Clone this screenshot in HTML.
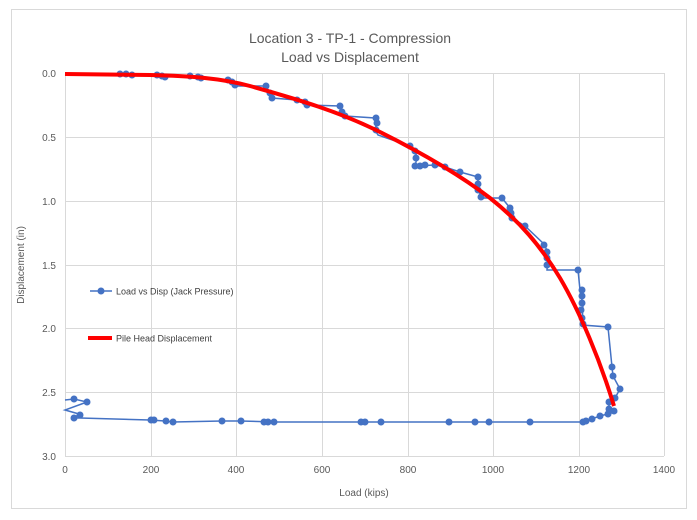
<!DOCTYPE html>
<html><head><style>
body{margin:0;background:#fff;}
svg{display:block;font-family:"Liberation Sans",sans-serif;}
</style></head><body>
<svg width="697" height="520" xmlns="http://www.w3.org/2000/svg">
<rect x="0" y="0" width="697" height="520" fill="#fff"/>
<rect x="11.5" y="9.5" width="675" height="499" fill="#fff" stroke="#d9d9d9"/>
<text x="350" y="43" text-anchor="middle" font-size="14" fill="#595959">Location 3 - TP-1 - Compression</text>
<text x="350" y="62" text-anchor="middle" font-size="14" fill="#595959">Load vs Displacement</text>
<g stroke="#d9d9d9" stroke-width="1">
<line x1="65" y1="73.5" x2="664" y2="73.5"/><line x1="65" y1="137.5" x2="664" y2="137.5"/><line x1="65" y1="201.5" x2="664" y2="201.5"/><line x1="65" y1="265.5" x2="664" y2="265.5"/><line x1="65" y1="328.5" x2="664" y2="328.5"/><line x1="65" y1="392.5" x2="664" y2="392.5"/><line x1="65" y1="456.5" x2="664" y2="456.5"/>
<line x1="65.5" y1="73" x2="65.5" y2="456"/><line x1="151.5" y1="73" x2="151.5" y2="456"/><line x1="236.5" y1="73" x2="236.5" y2="456"/><line x1="322.5" y1="73" x2="322.5" y2="456"/><line x1="408.5" y1="73" x2="408.5" y2="456"/><line x1="493.5" y1="73" x2="493.5" y2="456"/><line x1="579.5" y1="73" x2="579.5" y2="456"/><line x1="664.5" y1="73" x2="664.5" y2="456"/>
</g>
<g font-size="10" fill="#595959" text-anchor="end">
<text x="56" y="77">0.0</text><text x="56" y="141">0.5</text><text x="56" y="205">1.0</text><text x="56" y="269">1.5</text><text x="56" y="332">2.0</text><text x="56" y="396">2.5</text><text x="56" y="460">3.0</text>
</g>
<g font-size="10" fill="#595959" text-anchor="middle">
<text x="65" y="473">0</text><text x="151" y="473">200</text><text x="236" y="473">400</text><text x="322" y="473">600</text><text x="408" y="473">800</text><text x="493" y="473">1000</text><text x="579" y="473">1200</text><text x="664" y="473">1400</text>
</g>
<text x="364" y="496" text-anchor="middle" font-size="10" fill="#595959">Load (kips)</text>
<text transform="translate(24,265) rotate(-90)" text-anchor="middle" font-size="10" fill="#595959">Displacement (in)</text>
<polyline fill="none" stroke="#4472c4" stroke-width="1.5" points="65,74 120,74 130,74 133,75 157,75 162,76 165,77 190,76 198,77 200,78 228,80 232,81 235,85 237,86 265,86 270,92 272,98 297,100 305,102 307,105 340,106 342,112 345,116 375,118 377,122 375,130 378,135 410,146 415,150 417,158 415,166 435,165 445,167 460,172 478,177 478,190 482,198 502,198 510,208 512,218 525,226 545,245 548,255 547,270 578,270 580,290 583,305 582,325 608,327 612,367 613,376 620,389 615,398 609,402 609,410 615,412 600,416 583,422 530,422 487,422 475,422 449,422 381,422 365,422 362,422 300,422 275,422 240,421 222,421 173,422 165,421 150,420 80,418 74,418 79,414 65,410 87,402 74,399 65,400"/>
<g fill="#4472c4">
<circle cx="120" cy="74" r="3.5"/><circle cx="126" cy="74" r="3.5"/><circle cx="132" cy="75" r="3.5"/><circle cx="157" cy="75" r="3.5"/><circle cx="162" cy="76" r="3.5"/><circle cx="165" cy="77" r="3.5"/><circle cx="190" cy="76" r="3.5"/><circle cx="198" cy="77" r="3.5"/><circle cx="201" cy="78" r="3.5"/><circle cx="228" cy="80" r="3.5"/><circle cx="232" cy="82" r="3.5"/><circle cx="235" cy="85" r="3.5"/><circle cx="266" cy="86" r="3.5"/><circle cx="270" cy="93" r="3.5"/><circle cx="272" cy="98" r="3.5"/><circle cx="297" cy="100" r="3.5"/><circle cx="305" cy="102" r="3.5"/><circle cx="307" cy="105" r="3.5"/><circle cx="340" cy="106" r="3.5"/><circle cx="342" cy="112" r="3.5"/><circle cx="345" cy="116" r="3.5"/><circle cx="376" cy="118" r="3.5"/><circle cx="377" cy="123" r="3.5"/><circle cx="376" cy="130" r="3.5"/><circle cx="410" cy="146" r="3.5"/><circle cx="415" cy="151" r="3.5"/><circle cx="416" cy="158" r="3.5"/><circle cx="415" cy="166" r="3.5"/><circle cx="420" cy="166" r="3.5"/><circle cx="425" cy="165" r="3.5"/><circle cx="435" cy="165" r="3.5"/><circle cx="445" cy="167" r="3.5"/><circle cx="460" cy="172" r="3.5"/><circle cx="478" cy="177" r="3.5"/><circle cx="478" cy="184" r="3.5"/><circle cx="478" cy="190" r="3.5"/><circle cx="481" cy="197" r="3.5"/><circle cx="502" cy="198" r="3.5"/><circle cx="510" cy="208" r="3.5"/><circle cx="511" cy="213" r="3.5"/><circle cx="512" cy="218" r="3.5"/><circle cx="525" cy="226" r="3.5"/><circle cx="544" cy="245" r="3.5"/><circle cx="547" cy="252" r="3.5"/><circle cx="547" cy="258" r="3.5"/><circle cx="547" cy="265" r="3.5"/><circle cx="578" cy="270" r="3.5"/><circle cx="582" cy="290" r="3.5"/><circle cx="582" cy="296" r="3.5"/><circle cx="582" cy="303" r="3.5"/><circle cx="581" cy="310" r="3.5"/><circle cx="582" cy="318" r="3.5"/><circle cx="583" cy="324" r="3.5"/><circle cx="608" cy="327" r="3.5"/><circle cx="612" cy="367" r="3.5"/><circle cx="613" cy="376" r="3.5"/><circle cx="620" cy="389" r="3.5"/><circle cx="615" cy="398" r="3.5"/><circle cx="609" cy="402" r="3.5"/><circle cx="609" cy="409" r="3.5"/><circle cx="614" cy="411" r="3.5"/><circle cx="608" cy="414" r="3.5"/><circle cx="600" cy="416" r="3.5"/><circle cx="592" cy="419" r="3.5"/><circle cx="586" cy="421" r="3.5"/><circle cx="583" cy="422" r="3.5"/><circle cx="530" cy="422" r="3.5"/><circle cx="489" cy="422" r="3.5"/><circle cx="475" cy="422" r="3.5"/><circle cx="449" cy="422" r="3.5"/><circle cx="381" cy="422" r="3.5"/><circle cx="365" cy="422" r="3.5"/><circle cx="361" cy="422" r="3.5"/><circle cx="274" cy="422" r="3.5"/><circle cx="268" cy="422" r="3.5"/><circle cx="264" cy="422" r="3.5"/><circle cx="241" cy="421" r="3.5"/><circle cx="222" cy="421" r="3.5"/><circle cx="173" cy="422" r="3.5"/><circle cx="166" cy="421" r="3.5"/><circle cx="151" cy="420" r="3.5"/><circle cx="154" cy="420" r="3.5"/><circle cx="80" cy="415" r="3.5"/><circle cx="74" cy="418" r="3.5"/><circle cx="87" cy="402" r="3.5"/><circle cx="74" cy="399" r="3.5"/>
</g>
<path d="M65,74 L150,75 C190,76 220,78 250,86 C300,100 340,112 380,132 C420,152 460,175 490,198 C520,222 540,245 560,278 C580,312 600,360 614,406" fill="none" stroke="#ff0000" stroke-width="4"/>
<line x1="90" y1="291" x2="112" y2="291" stroke="#4472c4" stroke-width="1.5"/><circle cx="101" cy="291" r="3.5" fill="#4472c4"/>
<text x="116" y="294.5" font-size="9" fill="#404040">Load vs Disp (Jack Pressure)</text>
<line x1="88" y1="338" x2="112" y2="338" stroke="#ff0000" stroke-width="4"/>
<text x="116" y="341.5" font-size="9" fill="#404040">Pile Head Displacement</text>
</svg>
</body></html>
